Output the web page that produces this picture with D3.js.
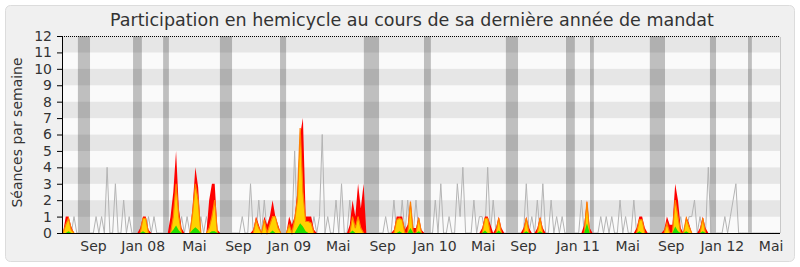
<!DOCTYPE html>
<html>
<head>
<meta charset="utf-8">
<script src="https://cdn.jsdelivr.net/npm/d3@7"></script>
<style>
  html, body { margin: 0; padding: 0; background: #ffffff; }
  svg { display: block; font-family: "DejaVu Sans", sans-serif; }
</style>
</head>
<body>
<div id="chart"></div>
<script>
// weekly values, one entry per week from mid-June 2007 (week 0) to June 2012 (week 260)
var presences = [
  0,1,1,0.4,0,0,0,0,0,0, 0,0,0,0,0,0,0,0,0,0,
  0,0,0,0,0,0,0,0,0.3,1, 1,0.2,0,0,0,0,0,0,0,1,
  2.5,5,1.5,0.3,0,0,0,1.6,4,2.8, 0,0,0,2,3,3,0.2,0,0,0,
  0,0,0,0,0,0,0,0,0,0.2, 1,0.5,0,1,0.5,1,2,1,0.5,0,
  0,0,1,0.5,1,2.5,6,7,1,1, 1,0.2,0,0,0,0,0,0,0,0,
  0,0,0,0,0.5,2,1,3,1.5,3, 0,0,0,0,0,0,0,0,0,0,
  0.2,1,1,1,0.2,0.5,2,0.3,0.3,1, 0.2,0,0,0,0,0,0,0,0,0,
  0,0,0,0,0,0,0,0,0,0, 0,0,0.3,1,1,0.5,0,0.3,1,0.3,
  0,0,0,0,0,0,0,0.3,1,0.3, 0,0,0.3,1,0.3,0,0,0,0,0,
  0,0,0,0,0,0,0,0,0,0.5, 2,0.3,0,0,0,0,0,0,0,0,
  0,0,0,0,0,0,0,0,0.3,1, 1,0.3,0,0,0,0,0,0,0.2,1,
  0.5,0.5,3,2,0.3,0,1,0.6,0,0, 0,0.3,1,0.3,0,0,0,0,0,0,
  0,0,0,0,0,0,0,0,0,0, 0,0,0,0,0,0,0,0,0,0,
  0
];
var interventions = [
  0,0.5,0.9,0.2,0,0,0,0,0,0, 0,0,0,0,0,0,0,0,0,0,
  0,0,0,0,0,0,0,0,0,0.9, 0.9,0,0,0,0,0,0,0,0,0,
  1,3,1,0,0,0,0,1.2,3,2, 0,0,0,0.3,1,2,0,0,0,0,
  0,0,0,0,0,0,0,0,0,0, 0.8,0.3,0,0.8,0,0.5,1,1,0.3,0,
  0,0,0.5,0,0.8,2,6.4,2.5,0.7,0.7, 0.6,0,0,0,0,0,0,0,0,0,
  0,0,0,0,0,1,0.3,1,0.3,0, 0,0,0,0,0,0,0,0,0,0,
  0,0.8,0.9,0.8,0,0,1.9,0,0,0.9, 0,0,0,0,0,0,0,0,0,0,
  0,0,0,0,0,0,0,0,0,0, 0,0,0,0.9,0.9,0,0,0,0.9,0,
  0,0,0,0,0,0,0,0,0.9,0, 0,0,0,0.9,0,0,0,0,0,0,
  0,0,0,0,0,0,0,0,0,0, 1.9,0,0,0,0,0,0,0,0,0,
  0,0,0,0,0,0,0,0,0,0.8, 0.8,0,0,0,0,0,0,0,0,0.6,
  0,0,2,1,0,0,0.9,0.4,0,0, 0,0,0.9,0,0,0,0,0,0,0,
  0,0,0,0,0,0,0,0,0,0, 0,0,0,0,0,0,0,0,0,0,
  0
];
var questions = [
  0,0,0.1,0,0,0,0,0,0,0, 0,0,0,0,0,0,0,0,0,0,
  0,0,0,0,0,0,0,0,0,0.1, 0,0,0,0,0,0,0,0,0,0,
  0.2,0.45,0.15,0,0,0,0,0.2,0.35,0.2, 0,0,0,0,0.1,0.1,0,0,0,0,
  0,0,0,0,0,0,0,0,0,0, 0,0,0,0,0,0,0.15,0,0,0,
  0,0,0,0,0,0.3,0.6,0.4,0.1,0, 0,0,0,0,0,0,0,0,0,0,
  0,0,0,0,0,0.15,0,0,0,0, 0,0,0,0,0,0,0,0,0,0,
  0,0,0.1,0,0,0,0.3,0,0,0.1, 0,0,0,0,0,0,0,0,0,0,
  0,0,0,0,0,0,0,0,0,0, 0,0,0,0.15,0,0,0,0,0.15,0,
  0,0,0,0,0,0,0,0,0.1,0, 0,0,0,0.1,0,0,0,0,0,0,
  0,0,0,0,0,0,0,0,0,0, 0.6,0,0,0,0,0,0,0,0,0,
  0,0,0,0,0,0,0,0,0,0.1, 0,0,0,0,0,0,0,0,0,0,
  0,0,0.4,0.1,0,0,0.1,0,0,0, 0,0,0.1,0,0,0,0,0,0,0,
  0,0,0,0,0,0,0,0,0,0, 0,0,0,0,0,0,0,0,0,0,
  0
];
var mediane = [
  0,0,0,0,1,0,0,0,0,0, 0,0,1,0,1,0,4,0,0,3,
  0,0,2,0,1,0,0,0,0,0, 0,1,0,1,0,0,0,0,0,0,
  0,0,0,1,0,1,0,0,0,0, 1,0,1,0,0,0,0,0,0,0,
  0,0,0,0,0,1,0,0,3,0, 0,2,0,2,0,1,0,1,0,0,
  0,0,0,0,5,0,0,0,0,0, 0,1,0,1,6,0,1,0,0,2,
  0,3,0,0,2,0,0,0,0,0, 0,0,0,0,0,0,0,1,0,0,
  2,0,0,2,0,2,0,0,2,0, 0,0,0,0,0,2,0,3,0,0,
  1,0,0,3,1,4,0,0,0,2, 0,1,1,0,4,0,2,0,0,0,
  0,0,0,0,0,0,0,0,3,0, 1,0,2,0,3,0,0,2,0,1,
  0,1,0,0,0,0,0,0,2,0, 0,0,0,0,0,1,0,1,0,1,
  0,0,2,0,1,0,0,2,0,0, 0,0,0,0,0,0,0,0,0,0,
  0,0,0,0,1,0,0,1,1,2, 0,1,0,0,4,0,0,0,0,0,
  1,0,1,2,3,0,0,0,0,0, 0,0,0,0,0,0,0,0,0,0,
  0
];
// parliamentary recess, as [first week, last week]
var vacances = [
  [5.4, 9.8], [25.4, 28.6], [36.3, 38.4], [56.9, 61.3], [78.7, 80.9],
  [109.1, 114.6], [130.9, 133.4], [160.6, 165.0], [182.4, 185.6],
  [191.1, 192.5], [212.8, 218.3], [234.6, 236.8], [248.4, 249.8]
];
var tickWeeks = [10.9, 28.9, 47.5, 63.4, 81.9, 99.6, 115.7, 134.6, 152.2, 166.8, 186.6, 204.6, 220.4, 238.9, 256.6];
var tickLabels = ["Sep", "Jan 08", "Mai", "Sep", "Jan 09", "Mai", "Sep", "Jan 10", "Mai", "Sep", "Jan 11", "Mai", "Sep", "Jan 12", "Mai"];
var yTicks = d3.range(0, 13);

var WIDTH = 800, HEIGHT = 267;
var LEFT = 62, RIGHT = 780, TOP = 36, BOTTOM = 233;

var x = d3.scaleLinear().domain([0, 260]).range([63, RIGHT]);
var y = d3.scaleLinear().domain([0, 12]).range([BOTTOM, TOP]);

var svg = d3.select("#chart").append("svg")
  .attr("width", WIDTH)
  .attr("height", HEIGHT);

// frame
svg.append("rect").attr("width", WIDTH).attr("height", HEIGHT).attr("fill", "#ffffff");
svg.append("rect")
  .attr("x", 5.5).attr("y", 5.5).attr("width", 789).attr("height", 256)
  .attr("rx", 5).attr("fill", "#f0f0f0").attr("stroke", "#dcdcdc");

svg.append("text")
  .attr("x", 412).attr("y", 26)
  .attr("text-anchor", "middle")
  .style("font-size", "17.5px")
  .style("fill", "#333")
  .text("Participation en hemicycle au cours de sa dernière année de mandat");

// stripes
svg.append("g").selectAll("rect")
  .data(d3.range(12))
  .enter().append("rect")
  .attr("x", LEFT)
  .attr("width", RIGHT - LEFT)
  .attr("y", function (k) { return y(k + 1); })
  .attr("height", function (k) { return y(k) - y(k + 1); })
  .attr("fill", function (k) { return k % 2 ? "#e6e6e6" : "#fafafa"; });

// recess bands
svg.append("g").selectAll("rect")
  .data(vacances)
  .enter().append("rect")
  .attr("x", function (d) { return x(d[0]); })
  .attr("width", function (d) { return x(d[1]) - x(d[0]); })
  .attr("y", TOP)
  .attr("height", BOTTOM - TOP)
  .attr("fill", "#000")
  .attr("fill-opacity", 0.235);

// median line
svg.append("path")
  .attr("d", d3.line().x(function (d, i) { return x(i); }).y(function (d) { return y(d); })(mediane))
  .attr("fill", "none")
  .attr("stroke", "#b4b4b4")
  .attr("stroke-width", 1);

function areaPath(vals) {
  return d3.area()
    .x(function (d, i) { return x(i); })
    .y0(y(0))
    .y1(function (d) { return y(d); })(vals);
}

svg.append("path").attr("d", areaPath(presences)).attr("fill", "#ff0000");
svg.append("path").attr("d", areaPath(interventions)).attr("fill", "#ffd200");
svg.append("path")
  .attr("d", d3.line()
    .defined(function (d, i, a) { return d > 0 || a[i - 1] > 0 || a[i + 1] > 0; })
    .x(function (d, i) { return x(i); })
    .y(function (d) { return y(d); })(interventions))
  .attr("fill", "none")
  .attr("stroke", "#ff8000")
  .attr("stroke-width", 1.2);
svg.append("path").attr("d", areaPath(questions)).attr("fill", "#22e000");

// top dotted line and right edge
svg.append("line")
  .attr("x1", LEFT).attr("x2", RIGHT).attr("y1", TOP + 0.5).attr("y2", TOP + 0.5)
  .attr("stroke", "#000").attr("stroke-dasharray", "1,1");
svg.append("line")
  .attr("x1", RIGHT + 0.5).attr("x2", RIGHT + 0.5).attr("y1", TOP + 1).attr("y2", BOTTOM)
  .attr("stroke", "#c8c8c8");

// axes
var yAxis = svg.append("g")
  .attr("transform", "translate(" + LEFT + ",0)")
  .call(d3.axisLeft(y).tickValues(yTicks).tickSize(5).tickSizeOuter(0).tickPadding(5));
var xAxis = svg.append("g")
  .attr("transform", "translate(0," + BOTTOM + ")")
  .call(d3.axisBottom(x).tickValues(tickWeeks).tickSize(0).tickPadding(8)
    .tickFormat(function (d, i) { return tickLabels[i]; }));
xAxis.select(".domain").attr("d", "M" + LEFT + ",0.5H" + RIGHT);

svg.selectAll(".tick text")
  .style("font-family", "DejaVu Sans")
  .style("font-size", "14px")
  .style("fill", "#333");
svg.selectAll(".domain, .tick line").attr("stroke", "#000");

svg.append("text")
  .attr("transform", "translate(21.5,132.5) rotate(-90)")
  .attr("text-anchor", "middle")
  .style("font-size", "14px")
  .style("fill", "#333")
  .text("Séances par semaine");
</script>
</body>
</html>
